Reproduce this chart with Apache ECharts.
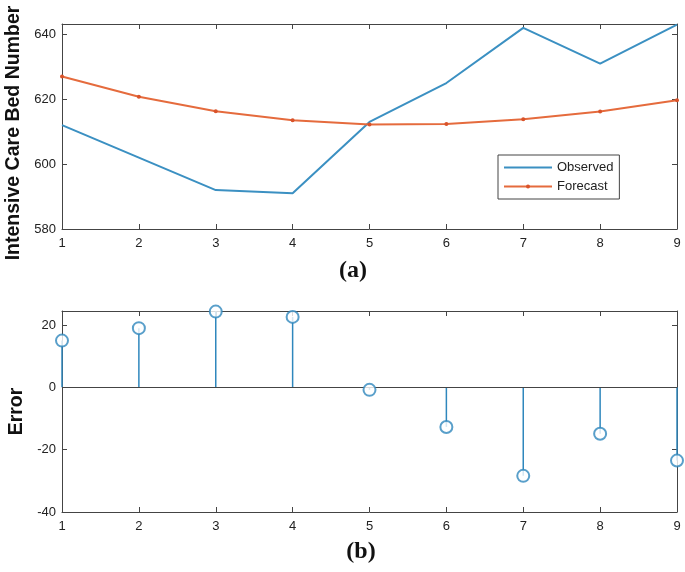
<!DOCTYPE html>
<html><head><meta charset="utf-8">
<script src="https://cdn.jsdelivr.net/npm/echarts@6/dist/echarts.min.js"></script>
<style>html,body{margin:0;padding:0;background:#fff}#c{width:685px;height:572px}</style>
</head><body><div id="c"></div>
<script>
const steps = [1, 2, 3, 4, 5, 6, 7, 8, 9];
const observed = [612, 602, 592, 591, 613, 625, 642, 631, 643];
const forecast = [627, 620.8, 616.3, 613.5, 612.2, 612.4, 613.8, 616.2, 619.7];
const errorVals = [15, 19, 24.3, 22.6, -0.8, -12.7, -28.4, -14.9, -23.5];
const topTicks = [580, 600, 620, 640];
const bottomTicks = [-40, -20, 0, 20];

const pair = (xs, ys) => xs.map((x, i) => [x, ys[i]]);
const tickFont = { fontFamily: 'Liberation Sans', fontSize: 13, color: '#222' };
const axisLineStyle = { onZero: false, lineStyle: { color: '#444', width: 1 } };

function xAxes(gridIndex) {
  return [
    { gridIndex, type: 'value', min: 1, max: 9, interval: 1, position: 'bottom',
      axisLine: axisLineStyle, axisTick: { inside: true, length: 5, lineStyle: { color: '#444' } },
      axisLabel: Object.assign({ margin: 8 }, tickFont), splitLine: { show: false } },
    { gridIndex, type: 'value', min: 1, max: 9, interval: 1, position: 'top',
      axisLine: axisLineStyle, axisTick: { inside: true, length: 5, lineStyle: { color: '#444' } },
      axisLabel: { show: false }, splitLine: { show: false } }
  ];
}
function yAxes(gridIndex, min, max, ticks, name, nameGap, namePad) {
  const fmt = v => ticks.includes(Math.round(v * 1000) / 1000) ? String(v) : '';
  return [
    { gridIndex, type: 'value', min, max, interval: 20, position: 'left',
      name, nameLocation: 'middle', nameGap, nameRotate: 90,
      nameTextStyle: { fontFamily: 'Liberation Sans', fontWeight: 'bold', fontSize: 19.5, color: '#111', padding: namePad },
      axisLine: axisLineStyle, axisTick: { inside: true, length: 5, lineStyle: { color: '#444' } },
      axisLabel: Object.assign({ formatter: fmt, margin: 6 }, tickFont), splitLine: { show: false } },
    { gridIndex, type: 'value', min, max, interval: 20, position: 'right',
      axisLine: axisLineStyle, axisTick: { inside: true, length: 5, lineStyle: { color: '#444' } },
      axisLabel: { show: false }, splitLine: { show: false } }
  ];
}

const chart = echarts.init(document.getElementById('c'), null, { renderer: 'canvas' });
chart.setOption({
  animation: false,
  backgroundColor: '#fff',
  grid: [
    { left: 62, right: 8, top: 24, height: 205, outerBoundsMode: 'none', containLabel: false },
    { left: 62, right: 8, top: 311, height: 201, outerBoundsMode: 'none', containLabel: false }
  ],
  xAxis: [...xAxes(0), ...xAxes(1)],
  yAxis: [...yAxes(0, 580, 643.2, topTicks, 'Intensive Care Bed Number', 35, [0, 13, 0, 0]),
          ...yAxes(1, -40, 24.5, bottomTicks, 'Error', 31, [0, 0, 0, 0])],
  title: [
    { text: '(a)', left: 348, top: 254, textAlign: 'center',
      textStyle: { fontFamily: 'Liberation Serif', fontWeight: 'bold', fontSize: 24, color: '#111' } },
    { text: '(b)', left: 356, top: 535, textAlign: 'center',
      textStyle: { fontFamily: 'Liberation Serif', fontWeight: 'bold', fontSize: 24, color: '#111' } }
  ],
  legend: {
    data: [{ name: 'Observed', itemStyle: { opacity: 0 } }, { name: 'Forecast' }],
    orient: 'vertical', left: 498, top: 155,
    backgroundColor: '#fff', borderColor: '#444', borderWidth: 1,
    padding: [6, 6, 6, 5], itemGap: 6, itemWidth: 48, itemHeight: 5,
    textStyle: { fontFamily: 'Liberation Sans', fontSize: 13, color: '#222' }
  },
  series: [
    { name: 'Observed', type: 'line', xAxisIndex: 0, yAxisIndex: 0,
      data: pair(steps, observed), showSymbol: false, symbol: 'none',
      lineStyle: { color: '#3b90c2', width: 2 }, itemStyle: { color: '#3b90c2' } },
    { name: 'Forecast', type: 'line', xAxisIndex: 0, yAxisIndex: 0,
      data: pair(steps, forecast), symbol: 'circle', symbolSize: 4,
      lineStyle: { color: '#e56b3d', width: 2 }, itemStyle: { color: '#d9532a' } },
    { name: 'stem', type: 'bar', xAxisIndex: 2, yAxisIndex: 2,
      data: pair(steps, errorVals), barWidth: 1.5, itemStyle: { color: '#2f87bd' },
      markLine: { silent: true, symbol: 'none', label: { show: false },
        lineStyle: { color: '#444', width: 1.2, type: 'solid' }, data: [{ yAxis: 0 }] } },
    { name: 'err', type: 'scatter', xAxisIndex: 2, yAxisIndex: 2, clip: false,
      data: pair(steps, errorVals), symbol: 'emptyCircle', symbolSize: 12, z: 5,
      itemStyle: { color: '#2f87bd', borderColor: '#2f87bd', borderWidth: 2 } }
  ]
});
</script></body></html>
